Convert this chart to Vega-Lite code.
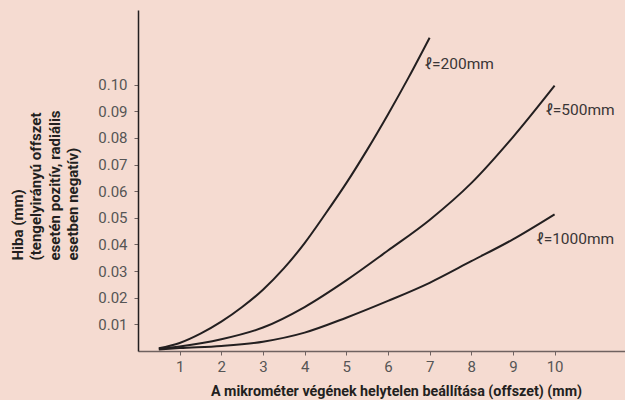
{
  "$schema": "https://vega.github.io/schema/vega-lite/v6.json",
  "width": 487,
  "height": 341,
  "autosize": {"type": "none"},
  "padding": {"left": 138, "top": 10, "right": 0, "bottom": 49},
  "background": "#f5dbd1",
  "config": {
    "view": {"stroke": null},
    "font": "Roboto",
    "axis": {"grid": false, "labelFont": "Roboto", "titleFont": "Roboto"}
  },
  "datasets": {
    "curves": [
      {"offset": 0.5, "error": 0.001, "L": "200"},
      {"offset": 1, "error": 0.003, "L": "200"},
      {"offset": 1.5, "error": 0.0065, "L": "200"},
      {"offset": 2, "error": 0.011, "L": "200"},
      {"offset": 2.5, "error": 0.0165, "L": "200"},
      {"offset": 3, "error": 0.023, "L": "200"},
      {"offset": 3.5, "error": 0.031, "L": "200"},
      {"offset": 4, "error": 0.0405, "L": "200"},
      {"offset": 4.5, "error": 0.0515, "L": "200"},
      {"offset": 5, "error": 0.063, "L": "200"},
      {"offset": 5.5, "error": 0.0755, "L": "200"},
      {"offset": 6, "error": 0.0888, "L": "200"},
      {"offset": 6.5, "error": 0.1028, "L": "200"},
      {"offset": 7, "error": 0.1176, "L": "200"},
      {"offset": 0.5, "error": 0.0008, "L": "500"},
      {"offset": 1, "error": 0.0017, "L": "500"},
      {"offset": 2, "error": 0.0044, "L": "500"},
      {"offset": 3, "error": 0.0088, "L": "500"},
      {"offset": 4, "error": 0.0165, "L": "500"},
      {"offset": 5, "error": 0.0265, "L": "500"},
      {"offset": 6, "error": 0.0377, "L": "500"},
      {"offset": 7, "error": 0.0492, "L": "500"},
      {"offset": 8, "error": 0.063, "L": "500"},
      {"offset": 9, "error": 0.0803, "L": "500"},
      {"offset": 10, "error": 0.0996, "L": "500"},
      {"offset": 0.5, "error": 0.0006, "L": "1000"},
      {"offset": 1, "error": 0.0011, "L": "1000"},
      {"offset": 2, "error": 0.0019, "L": "1000"},
      {"offset": 3, "error": 0.0035, "L": "1000"},
      {"offset": 4, "error": 0.0069, "L": "1000"},
      {"offset": 5, "error": 0.0125, "L": "1000"},
      {"offset": 6, "error": 0.0188, "L": "1000"},
      {"offset": 7, "error": 0.0256, "L": "1000"},
      {"offset": 8, "error": 0.0337, "L": "1000"},
      {"offset": 9, "error": 0.0419, "L": "1000"},
      {"offset": 10, "error": 0.0513, "L": "1000"}
    ],
    "labels": [
      {"offset": 6.88, "error": 0.1079, "text": "ℓ=200mm"},
      {"offset": 9.78, "error": 0.0904, "text": "ℓ=500mm"},
      {"offset": 9.56, "error": 0.0421, "text": "ℓ=1000mm"}
    ]
  },
  "layer": [
    {
      "data": {"name": "curves"},
      "mark": {"type": "line", "interpolate": "monotone", "stroke": "#231f20", "strokeWidth": 2},
      "encoding": {
        "x": {
          "field": "offset", "type": "quantitative",
          "scale": {"domain": [0, 11.69], "nice": false, "zero": false},
          "axis": {
            "values": [1, 2, 3, 4, 5, 6, 7, 8, 9, 10],
            "tickCount": 20,
            "format": "d",
            "labelOverlap": false, "labelFlush": false,
            "title": "A mikrométer végének helytelen beállítása (offszet) (mm)",
            "titleFontSize": 14.3, "titleFontWeight": "bold", "titleColor": "#231f20",
            "titleX": 258, "titleY": 44, "titleBaseline": "alphabetic", "titleAlign": "center",
            "labelFontSize": 15, "labelColor": "#555555", "labelPadding": 4,
            "domainColor": "#6f6260", "domainWidth": 1.5,
            "tickColor": "#6f6260", "tickSize": 4, "tickWidth": 1
          }
        },
        "y": {
          "field": "error", "type": "quantitative",
          "scale": {"domain": [0, 0.128], "nice": false},
          "axis": {
            "values": [0.01, 0.02, 0.03, 0.04, 0.05, 0.06, 0.07, 0.08, 0.09, 0.1],
            "tickCount": 20,
            "labelOverlap": false, "labelFlush": false,
            "format": ".2f",
            "title": ["Hiba (mm)", "(tengelyirányú offszet", "esetén pozitív, radiális", "esetben negatív)"],
            "titleFontSize": 15, "titleFontWeight": "bold", "titleColor": "#231f20",
            "titleAngle": -90, "titleAlign": "left", "titleBaseline": "top",
            "titleX": -128, "titleY": 250, "titleLineHeight": 18.5,
            "labelFontSize": 15, "labelColor": "#555555", "labelPadding": 7,
            "domainColor": "#231f20", "domainWidth": 1.5,
            "tickColor": "#6f6260", "tickSize": 4, "tickWidth": 1
          }
        },
        "detail": {"field": "L", "type": "nominal"}
      }
    },
    {
      "data": {"name": "labels"},
      "mark": {"type": "text", "align": "left", "baseline": "middle", "fontSize": 15.5, "color": "#3a3536", "font": "Roboto"},
      "encoding": {
        "x": {"field": "offset", "type": "quantitative"},
        "y": {"field": "error", "type": "quantitative"},
        "text": {"field": "text", "type": "nominal"}
      }
    }
  ]
}
